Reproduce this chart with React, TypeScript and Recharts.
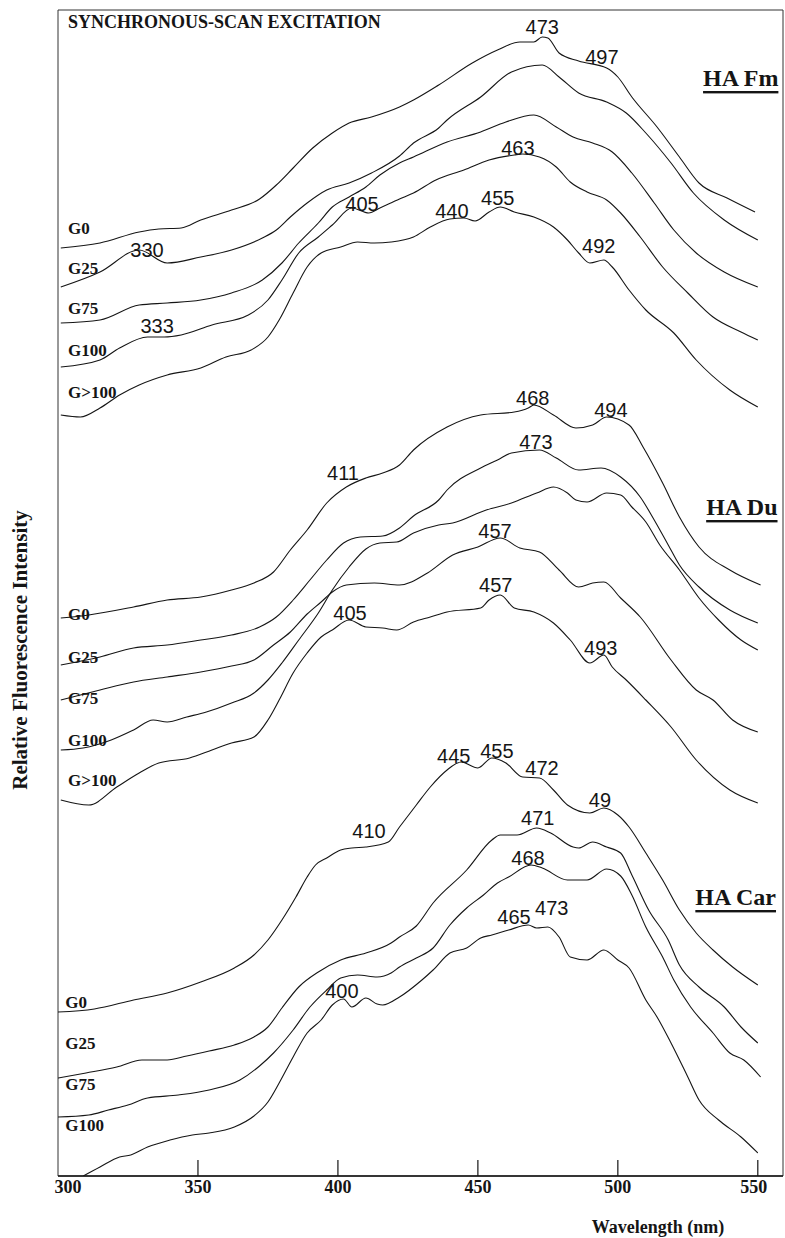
import React from 'react';
import { LineChart, Line, XAxis, YAxis, ReferenceDot, ReferenceLine, ReferenceArea } from 'recharts';

// [wavelength nm, relative intensity]
const fmG0 = [[301, 92.8], [315, 93.3], [329, 94.4], [336, 94.7], [344, 94.8], [351, 95.6], [362, 96.6], [372, 97.7], [378, 99.1], [384, 100.8], [391, 102.8], [398, 104.3], [404, 105.3], [412, 105.9], [422, 106.9], [427, 107.6], [436, 109.1], [448, 111.3], [457, 112.6], [465, 113.4], [470, 113.4], [473, 113.9], [475, 113.8], [479, 112.3], [486, 111.5], [496, 110.8], [500, 109.9], [505, 107.9], [514, 104.9], [522, 101.9], [529, 99.3], [539, 97.8], [549, 96.4]];
const fmG25 = [[301, 88.9], [315, 90.4], [329, 92.6], [339, 91.3], [351, 91.9], [362, 92.6], [373, 93.8], [378, 94.6], [383, 95.9], [389, 97.3], [396, 98.6], [404, 99.3], [412, 100.3], [422, 102.0], [427, 103.3], [436, 104.8], [439, 105.6], [451, 107.9], [462, 110.4], [473, 111.1], [479, 109.9], [486, 108.3], [496, 107.4], [503, 106.3], [510, 104.3], [519, 101.3], [527, 98.3], [538, 95.6], [550, 93.6]];
const fmG75 = [[301, 85.3], [315, 85.6], [329, 87.1], [339, 87.3], [351, 87.6], [362, 88.3], [373, 89.6], [380, 91.3], [386, 93.3], [393, 95.3], [398, 96.9], [404, 97.9], [410, 98.9], [415, 100.1], [422, 101.3], [427, 101.9], [439, 103.4], [451, 104.4], [460, 105.4], [470, 106.1], [478, 104.9], [484, 103.9], [491, 103.3], [498, 102.4], [505, 100.3], [513, 97.3], [520, 94.6], [528, 92.3], [538, 90.4], [550, 88.9]];
const fmG100 = [[301, 80.9], [315, 81.6], [322, 82.8], [332, 83.9], [338, 83.9], [344, 84.1], [355, 85.1], [368, 86.1], [375, 87.6], [380, 89.6], [386, 92.3], [393, 93.9], [398, 95.1], [405, 96.8], [411, 96.3], [415, 96.8], [422, 97.7], [427, 98.3], [435, 99.6], [445, 100.6], [454, 101.6], [463, 102.1], [466, 102.2], [472, 101.9], [478, 100.9], [483, 99.4], [489, 98.4], [496, 97.6], [501, 96.3], [508, 93.9], [516, 90.9], [525, 88.3], [534, 85.9], [544, 84.4], [550, 83.6]];
const fmG100plus = [[301, 76.1], [308, 75.9], [315, 76.8], [322, 78.1], [329, 79.1], [339, 80.1], [351, 80.8], [360, 81.9], [369, 82.6], [375, 83.9], [379, 85.6], [384, 88.3], [389, 90.9], [394, 92.3], [401, 92.9], [407, 93.4], [413, 93.3], [419, 93.4], [427, 93.9], [433, 94.9], [440, 95.7], [445, 95.8], [449, 95.5], [454, 96.4], [458, 96.9], [463, 96.4], [470, 95.9], [477, 94.9], [482, 93.6], [486, 92.3], [490, 91.3], [495, 91.6], [498, 90.9], [504, 88.6], [510, 86.6], [520, 84.3], [528, 81.6], [540, 78.6], [550, 76.9]];

const duG0 = [[301, 55.8], [311, 56.1], [327, 56.9], [339, 57.6], [351, 57.9], [362, 58.6], [370, 59.3], [377, 60.4], [383, 62.6], [389, 64.6], [396, 67.3], [403, 68.9], [410, 69.8], [416, 70.3], [422, 71.1], [427, 72.6], [439, 74.9], [451, 76.1], [463, 76.4], [468, 76.8], [470, 77.1], [477, 76.1], [485, 74.8], [491, 75.1], [496, 75.9], [504, 75.1], [509, 72.9], [516, 69.3], [522, 65.9], [529, 62.9], [540, 60.6], [551, 59.1]];
const duG25 = [[301, 51.1], [315, 51.9], [327, 52.8], [339, 53.1], [351, 53.6], [362, 54.1], [372, 54.9], [378, 55.9], [384, 57.6], [390, 59.6], [396, 61.6], [402, 63.3], [408, 63.9], [416, 64.0], [422, 64.8], [427, 66.0], [436, 67.6], [439, 68.6], [451, 70.8], [457, 71.6], [462, 72.3], [472, 72.6], [478, 71.8], [486, 70.6], [494, 70.8], [501, 69.9], [508, 67.9], [513, 65.6], [518, 63.1], [522, 61.1], [529, 58.9], [540, 56.6], [550, 55.3]];
const duG75 = [[301, 47.6], [315, 48.6], [327, 49.4], [339, 49.9], [351, 50.4], [362, 51.0], [370, 51.6], [377, 53.1], [383, 54.4], [389, 56.2], [394, 57.4], [398, 58.4], [403, 59.1], [413, 59.3], [422, 59.1], [432, 60.3], [441, 62.1], [450, 62.9], [458, 63.8], [465, 62.8], [472, 62.4], [479, 60.6], [486, 58.9], [491, 59.3], [495, 59.4], [501, 57.8], [508, 55.9], [519, 51.6], [528, 48.6], [534, 47.6], [541, 45.6], [550, 44.4]];
const duG100 = [[301, 42.6], [309, 42.8], [319, 43.6], [327, 44.6], [334, 45.6], [339, 45.4], [346, 45.9], [353, 46.4], [362, 47.3], [370, 48.3], [375, 49.6], [380, 51.3], [386, 53.6], [393, 56.3], [398, 58.6], [404, 60.9], [410, 62.7], [415, 63.3], [421, 63.4], [427, 64.3], [436, 65.1], [441, 65.3], [453, 66.6], [462, 67.3], [471, 68.3], [477, 68.9], [482, 68.3], [485, 67.6], [489, 67.4], [496, 68.3], [501, 68.1], [505, 66.9], [510, 65.4], [515, 63.1], [522, 60.6], [529, 57.8], [536, 55.6], [544, 53.6], [550, 52.6]];
const duG100plus = [[301, 37.6], [311, 37.1], [321, 38.9], [329, 40.3], [336, 41.3], [347, 41.8], [355, 42.6], [362, 43.3], [370, 43.9], [375, 45.6], [379, 47.6], [384, 50.3], [389, 52.3], [394, 53.9], [398, 54.6], [404, 55.6], [410, 54.9], [416, 54.8], [421, 54.6], [427, 55.4], [433, 55.9], [439, 56.4], [451, 56.8], [454, 57.6], [458, 58.1], [463, 56.8], [470, 56.4], [477, 55.3], [483, 53.6], [490, 51.3], [495, 52.1], [498, 50.9], [503, 49.6], [510, 47.6], [519, 44.9], [528, 41.6], [540, 38.6], [550, 37.3]];

const carG0 = [[300, 16.4], [313, 16.7], [327, 17.6], [339, 18.3], [351, 19.4], [363, 20.8], [370, 22.1], [375, 23.6], [380, 25.6], [385, 27.9], [389, 29.9], [392, 31.1], [396, 31.8], [401, 32.6], [405, 32.8], [410, 32.9], [418, 33.4], [422, 34.9], [428, 37.1], [433, 38.9], [439, 40.6], [444, 41.4], [450, 40.8], [455, 41.8], [460, 41.3], [466, 39.9], [472, 39.8], [477, 38.6], [482, 37.1], [490, 36.3], [495, 36.8], [500, 36.1], [504, 34.9], [510, 32.3], [516, 29.6], [522, 26.6], [528, 24.3], [534, 22.6], [541, 20.9], [550, 19.1]];
const carG25 = [[300, 9.8], [310, 10.3], [321, 10.9], [330, 11.6], [339, 11.6], [346, 12.0], [354, 12.5], [363, 13.1], [370, 13.9], [375, 14.9], [380, 16.8], [386, 18.9], [393, 20.4], [401, 21.6], [410, 22.3], [419, 23.3], [422, 23.9], [428, 25.0], [434, 27.3], [446, 30.6], [455, 33.6], [458, 34.1], [464, 34.1], [471, 34.8], [476, 34.3], [484, 32.9], [486, 32.8], [491, 33.4], [496, 32.9], [501, 32.3], [505, 30.1], [511, 26.6], [518, 23.6], [522, 21.1], [529, 18.9], [538, 16.9], [544, 14.9], [550, 13.3]];
const carG75 = [[300, 5.9], [311, 6.1], [318, 6.6], [325, 7.1], [332, 7.8], [343, 8.1], [354, 8.6], [365, 9.6], [372, 11.0], [377, 12.3], [384, 14.6], [390, 16.9], [396, 18.6], [401, 19.8], [407, 20.1], [414, 19.9], [419, 20.3], [422, 20.9], [428, 21.8], [434, 22.8], [440, 25.1], [446, 26.8], [452, 28.1], [457, 29.3], [461, 29.9], [469, 31.1], [473, 30.8], [482, 29.6], [489, 29.6], [496, 30.7], [501, 30.0], [505, 28.1], [510, 24.9], [516, 21.9], [520, 19.6], [526, 16.9], [534, 14.3], [540, 12.3], [545, 11.6], [551, 9.9]];
const carG100 = [[309, 0], [315, 0.9], [322, 1.9], [326, 2.1], [332, 2.9], [340, 3.6], [348, 4.1], [354, 4.3], [363, 4.9], [370, 6.0], [375, 7.4], [379, 9.3], [384, 11.9], [389, 14.3], [394, 15.6], [398, 17.1], [402, 17.7], [405, 16.9], [410, 17.8], [414, 17.2], [416, 17.1], [422, 17.9], [430, 19.6], [434, 20.6], [440, 22.3], [446, 22.8], [451, 23.8], [455, 24.1], [461, 24.6], [468, 25.1], [471, 24.8], [475, 24.9], [479, 23.9], [483, 21.9], [489, 21.6], [495, 22.6], [500, 21.6], [504, 20.8], [510, 17.6], [514, 15.9], [519, 13.3], [525, 9.9], [529, 7.6], [536, 5.6], [544, 3.9], [550, 2.3]];

const spectra = [fmG0, fmG25, fmG75, fmG100, fmG100plus, duG0, duG25, duG75, duG100, duG100plus, carG0, carG25, carG75, carG100];

// sample labels at the left of each trace: [text, intensity]
const sampleLabels = [
  ['G0', 94.8], ['G25', 90.8], ['G75', 86.8], ['G100', 82.6], ['G>100', 78.4],
  ['G0', 56.2], ['G25', 51.9], ['G75', 47.8], ['G100', 43.6], ['G>100', 39.6],
  ['G0', 17.4], ['G25', 13.3], ['G75', 9.2], ['G100', 5.1],
];

// peak annotations: [text, wavelength, intensity]
const peakLabels = [
  ['473', 473, 114.9], ['497', 494.3, 111.9], ['330', 331.8, 92.6], ['405', 408.6, 97.2], ['333', 335.4, 85.0],
  ['463', 464.3, 102.8], ['440', 440.7, 96.5], ['455', 457.1, 97.8], ['492', 493.2, 93.0],
  ['411', 401.8, 70.3], ['468', 469.6, 77.8], ['494', 497.5, 76.6], ['473', 470.7, 73.4], ['457', 456.1, 64.5],
  ['457', 456.4, 59.1], ['405', 404.3, 56.3], ['493', 493.9, 52.8],
  ['445', 441.4, 42.0], ['455', 456.8, 42.5], ['472', 472.9, 40.8], ['49', 493.6, 37.6], ['410', 411.1, 34.5],
  ['471', 471.4, 35.8], ['468', 467.9, 31.8], ['465', 462.9, 25.9], ['473', 476.4, 26.8], ['400', 401.4, 18.5],
];

const groupLabels = [['HA Fm', 543.9, 109.8], ['HA Du', 544.3, 66.9], ['HA Car', 542.1, 27.9]];

const wavelengthTicks = [300, 350, 400, 450, 500, 550];

const serif = '"Liberation Serif", "Times New Roman", serif';
const sans = '"Liberation Sans", Arial, sans-serif';
const ink = '#151515';

const WaveTick = (props: any) => {
  const { x, y, payload } = props;
  return (
    <text x={payload.value === 300 ? x + 10 : x - (payload.value === 550 ? 4 : 0)} y={y} dy={17} textAnchor="middle"
      fontFamily={serif} fontWeight="bold" fontSize={18} fill={ink}>
      {payload.value}
    </text>
  );
};

const textAt = (text: string, opts: any) => (props: any) => {
  const vb = props.viewBox || {};
  const cx = (vb.x || 0) + (vb.width || 0) / 2;
  const cy = (vb.y || 0) + (vb.height || 0) / 2;
  return (
    <text x={cx} y={cy} dominantBaseline="central" fill={ink} {...opts}>
      {text}
    </text>
  );
};

export default function App() {
  return (
    <div style={{ position: 'absolute', left: 0, top: 0, width: 785, height: 1238, background: '#fff' }}>
      <LineChart width={785} height={1238} margin={{ top: 10, right: 2, left: 58, bottom: 32 }}>
        <XAxis
          dataKey="w"
          type="number"
          domain={[300, 559]}
          ticks={wavelengthTicks}
          allowDataOverflow
          height={30}
          tickSize={0}
          tickMargin={0}
          tickLine={false}
          tick={<WaveTick />}
          axisLine={{ stroke: ink, strokeWidth: 1.6 }}
        />
        <YAxis type="number" domain={[0, 116.6]} hide allowDataOverflow />
        <ReferenceArea x1={300} x2={559} y1={0} y2={116.6} fill="none" stroke="#333" strokeWidth={1} ifOverflow="visible" />
        {wavelengthTicks.slice(1).map((t) => (
          <ReferenceLine key={'t' + t} segment={[{ x: t, y: 0 }, { x: t, y: 1.6 }]} stroke={ink} strokeWidth={1.2} ifOverflow="visible" />
        ))}
        {spectra.map((pts, i) => (
          <Line
            key={i}
            data={pts.map(([w, v]) => ({ w, v }))}
            dataKey="v"
            type="monotone"
            stroke={ink}
            strokeWidth={1.1}
            dot={false}
            activeDot={false}
            isAnimationActive={false}
          />
        ))}
        {sampleLabels.map(([t, v], i) => (
          <ReferenceDot key={'s' + i} x={i >= 10 ? 302.6 : 303.6} y={v as number} r={0} stroke="none"
            label={textAt(t as string, { fontFamily: serif, fontWeight: 'bold', fontSize: 17, textAnchor: 'start' })} />
        ))}
        {peakLabels.map(([t, w, v], i) => (
          <ReferenceDot key={'p' + i} x={w as number} y={v as number} r={0} stroke="none"
            label={textAt(t as string, { fontFamily: sans, fontSize: 20, textAnchor: 'middle' })} />
        ))}
        {groupLabels.map(([t, w, v], i) => (
          <ReferenceDot key={'g' + i} x={w as number} y={v as number} r={0} stroke="none"
            label={textAt(t as string, { fontFamily: serif, fontWeight: 'bold', fontSize: 24, textAnchor: 'middle', textDecoration: 'underline' })} />
        ))}
      </LineChart>
      <svg width={785} height={1238} style={{ position: 'absolute', left: 0, top: 0, pointerEvents: 'none' }}>
        <text x={68} y={28} fontFamily={serif} fontWeight="bold" fontSize={18} fill={ink}>SYNCHRONOUS-SCAN EXCITATION</text>
        <text x={27} y={650} transform="rotate(-90 27 650)" textAnchor="middle" fontFamily={serif} fontWeight="bold" fontSize={21} fill={ink}>
          Relative Fluorescence Intensity
        </text>
        <text x={658} y={1233} textAnchor="middle" fontFamily={serif} fontWeight="bold" fontSize={18} fill={ink}>Wavelength (nm)</text>
      </svg>
    </div>
  );
}
